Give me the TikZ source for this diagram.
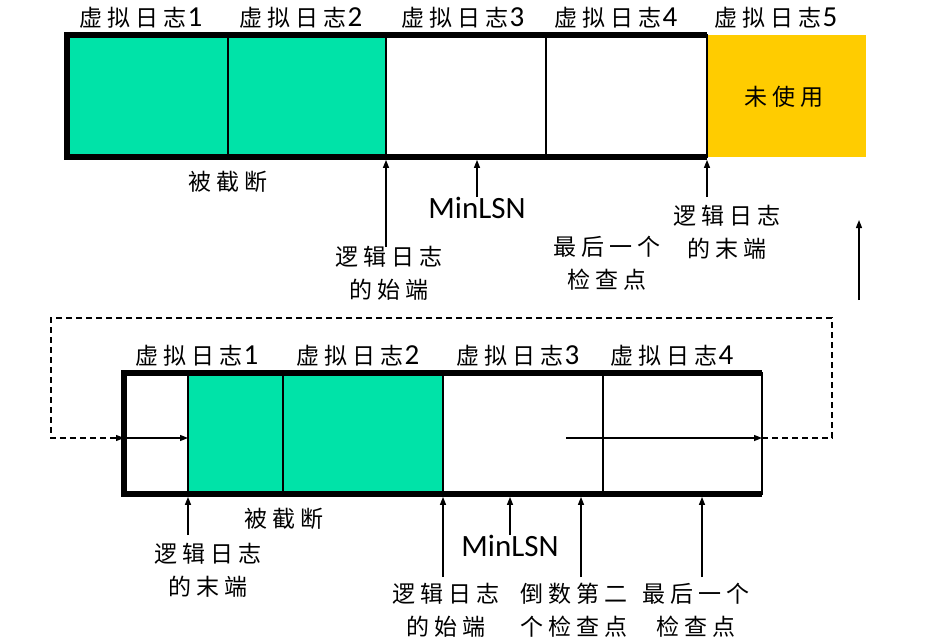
\documentclass[tikz,border=0pt]{standalone}
\usepackage{fontspec}
\setmainfont{Carlito}
\newfontfamily\cjk[LetterSpace=22]{Noto Sans CJK SC}
\usetikzlibrary{arrows.meta,calc}
\definecolor{lg}{RGB}{0,227,168}
\definecolor{ly}{RGB}{255,204,0}
\newcommand{\vlog}[1]{{\fontsize{23}{25}\selectfont\cjk 虚拟日志}\kern1pt#1}
\begin{document}
\begin{tikzpicture}[x=1pt,y=-1pt,
  cell/.style={draw=black, line width=1.3pt, minimum height=122pt, anchor=north west, inner sep=0pt, outer sep=0pt},
  frame/.style={line width=5.5pt, line join=miter},
  ptr/.style={line width=1.3pt, -{Triangle[length=8pt,width=6pt]}, shorten >=2.9pt},
  plain/.style={line width=1.3pt, -{Triangle[length=8pt,width=6pt]}},
  dashline/.style={line width=1.1pt, dash pattern=on 6pt off 4pt},
  lab/.style={font=\fontsize{23}{33}\selectfont\cjk, align=center, inner sep=0pt},
  hdr/.style={font=\fontsize{29}{30}\selectfont, inner sep=0pt},
  lsn/.style={font=\fontsize{31}{32}\selectfont, inner sep=0pt}]
\useasboundingbox (0,0) rectangle (929,643);

% ---- top bar ----
\node[cell, fill=ly, draw=none, minimum width=159pt] (a5) at (707,35) {};
\node[lab] (unused) at (784,97) {未使用};
\node[cell, fill=lg, minimum width=161pt] (a1) at (67,35) {};
\node[cell, fill=lg, minimum width=158pt] (a2) at (228,35) {};
\node[cell, minimum width=160pt] (a3) at (386,35) {};
\node[cell, minimum width=161pt] (a4) at (546,35) {};
\draw[frame] (a4.north east) -- (a1.north west) -- (a1.south west) -- (a4.south east);

\node[hdr] (h1) at (141,18) {\vlog{1}};
\node[hdr] (h2) at (301,18) {\vlog{2}};
\node[hdr] (h3) at (463,18) {\vlog{3}};
\node[hdr] (h4) at (616,18) {\vlog{4}};
\node[hdr] (h5) at (776,18) {\vlog{5}};

\node[lab] (cut1) at (228,182) {被截断};
\node[lab] (s1) at (389,273) {逻辑日志\\的始端};
\node[lsn] (m1) at (477,208) {MinLSN};
\node[lab] (e1) at (727,232) {逻辑日志\\的末端};
\node[lab] (c1) at (607,263) {最后一个\\检查点};

\coordinate (s1t) at (386,247);
\coordinate (e1t) at (707,197);
\draw[ptr] (s1t) -- (s1t |- a2.south);
\draw[ptr] (m1.north) -- (m1.north |- a3.south);
\draw[ptr] (e1t) -- (e1t |- a4.south);

\coordinate (u1) at (859,300);
\coordinate (u2) at (859,220);
\draw[plain] (u1) -- (u2);

% ---- bottom bar ----
\node[cell, minimum width=64pt, minimum height=121pt] (b0) at (124,373) {};
\node[cell, fill=lg, minimum width=95pt, minimum height=121pt] (b1) at (188,373) {};
\node[cell, fill=lg, minimum width=160pt, minimum height=121pt] (b2) at (283,373) {};
\node[cell, minimum width=160pt, minimum height=121pt] (b3) at (443,373) {};
\node[cell, minimum width=159pt, minimum height=121pt] (b4) at (603,373) {};
\draw[frame] (b4.north east) -- (b0.north west) -- (b0.south west) -- (b4.south east);

\node[hdr] (g1) at (197,356) {\vlog{1}};
\node[hdr] (g2) at (358,356) {\vlog{2}};
\node[hdr] (g3) at (518,356) {\vlog{3}};
\node[hdr] (g4) at (672,356) {\vlog{4}};

\node[lab] (cut2) at (284,519) {被截断};
\node[lab] (e2) at (208,570) {逻辑日志\\的末端};
\node[lab] (s2) at (446,610) {逻辑日志\\的始端};
\node[lsn] (m2) at (510,546) {MinLSN};
\node[lab] (p2) at (574,610) {倒数第二\\个检查点};
\node[lab] (c2) at (696,610) {最后一个\\检查点};

\coordinate (e2t) at (188,535);
\coordinate (s2t) at (443,577);
\coordinate (p2t) at (581,577);
\coordinate (c2t) at (702,577);
\draw[ptr] (e2t) -- (e2t |- b1.south);
\draw[ptr] (s2t) -- (s2t |- b2.south);
\draw[ptr] (m2.north) -- (m2.north |- b3.south);
\draw[ptr] (p2t) -- (p2t |- b3.south);
\draw[ptr] (c2t) -- (c2t |- b4.south);

% ---- wrap-around loop ----
\coordinate (L) at (51,438);
\coordinate (Lt) at (51,318);
\coordinate (Rt) at (832,318);
\coordinate (R) at (832,438);
\coordinate (pin) at (124,438);
\coordinate (gin) at (188,438);
\coordinate (rs) at (566,438);
\coordinate (pout) at (762,438);
\draw[dashline] (pout) -- (R) -- (Rt) -- (Lt) -- (L) -- (pin);
\draw[plain] ($(pin)+(-8,0)$) -- (pin);
\draw[plain] (pin) -- (gin);
\draw[plain] (rs) -- (pout);
\end{tikzpicture}
\end{document}
